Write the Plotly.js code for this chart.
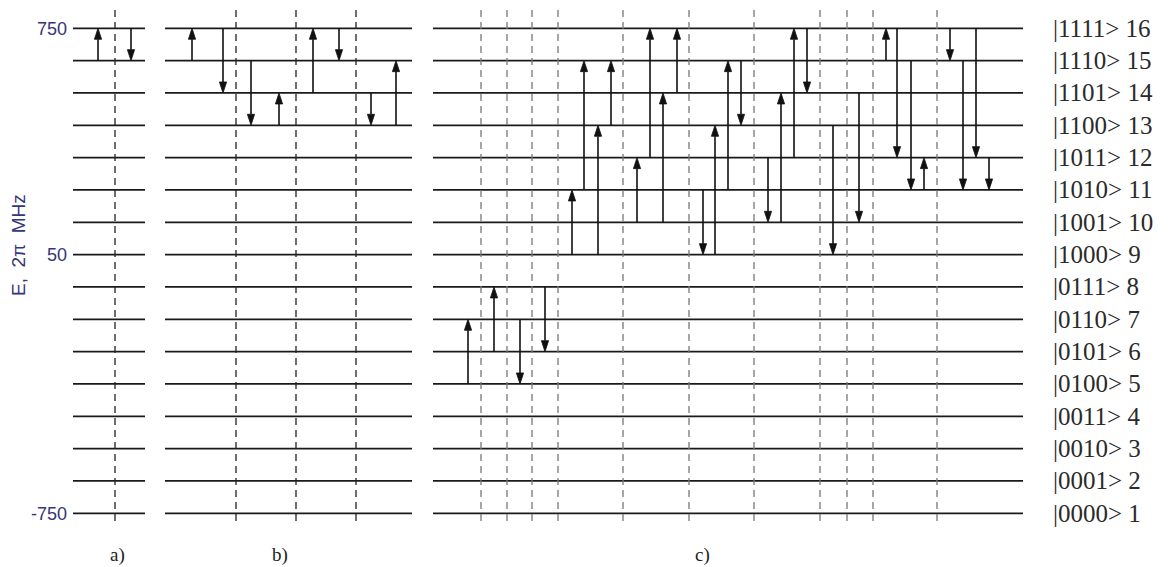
<!DOCTYPE html>
<html>
<head>
<meta charset="utf-8">
<script src="https://cdn.plot.ly/plotly-3.0.1.min.js"></script>
<style>html,body{margin:0;padding:0;background:#fff;}#chart{width:1170px;height:567px;}</style>
</head>
<body>
<div id="chart"></div>
<script>
// ---- data ----
const levelEnergies = [-750,-650,-550,-450,-350,-250,-150,-50,50,150,250,350,450,550,650,750];
const stateLabels = ["|0000> 1","|0001> 2","|0010> 3","|0011> 4","|0100> 5","|0101> 6","|0110> 7","|0111> 8",
                     "|1000> 9","|1001> 10","|1010> 11","|1011> 12","|1100> 13","|1101> 14","|1110> 15","|1111> 16"];
const tickValues = [-750, 50, 750];
const tickLabels = ["-750", "50", "750"];
const panelNames = ["a)", "b)", "c)"];

// transitions (x position along the schematic, from level, to level)
const aX = [98, 131];
const aFrom = [15, 16];
const aTo = [16, 15];

const bX = [192, 223, 251, 279, 313, 339, 371, 396];
const bFrom = [15, 16, 15, 13, 14, 16, 14, 13];
const bTo = [16, 14, 13, 14, 16, 15, 13, 15];

const cX = [468, 494, 520, 545, 572, 584, 598, 611, 637, 650, 663, 677, 703, 715, 728, 741,
            768, 781, 794, 807, 833, 859, 886, 897, 911, 924, 950, 963, 976, 989];
const cFrom = [5, 6, 7, 8, 9, 11, 9, 13, 10, 12, 10, 14, 11, 9, 11, 15,
               12, 10, 12, 16, 13, 14, 15, 16, 15, 11, 16, 15, 16, 12];
const cTo = [7, 8, 5, 6, 11, 15, 13, 15, 12, 16, 14, 16, 9, 13, 15, 13,
             10, 14, 16, 14, 9, 10, 16, 12, 11, 12, 15, 11, 12, 11];

// dashed separators
const aDash = [115];
const bDash = [236, 296, 356];
const cDash = [481, 507, 532, 558, 623, 689, 754, 820, 847, 873, 937];

// ---- layout geometry ----
const W = 1170, H = 567, ML = 68;
const yTop = 837.5, yBot = -916.1;
const yPerPx = (yTop - yBot) / H;
const pyToY = p => yTop - p * yPerPx;
const pxToPaper = p => (p - ML) / (W - ML);

const panels = [
  {x0: 73, x1: 145, xs: aX, from: aFrom, to: aTo, dash: aDash, dashColor: '#222', labelX: 117},
  {x0: 165, x1: 412, xs: bX, from: bFrom, to: bTo, dash: bDash, dashColor: '#222', labelX: 280},
  {x0: 433, x1: 1023, xs: cX, from: cFrom, to: cTo, dash: cDash, dashColor: '#777', labelX: 702}
];

const traces = [];
const headLen = 11 * yPerPx, headHalf = 3.6;
const dashTop = pyToY(10), dashBot = pyToY(525);

panels.forEach(p => {
  // levels
  const lx = [], ly = [];
  levelEnergies.forEach(e => { lx.push(p.x0, p.x1, null); ly.push(e, e, null); });
  traces.push({type: 'scatter', mode: 'lines', x: lx, y: ly, hoverinfo: 'skip',
               line: {color: '#1a1a1a', width: 1.8}, showlegend: false});
  // dashed separators
  const dx = [], dy = [];
  p.dash.forEach(x => { dx.push(x, x, null); dy.push(dashTop, dashBot, null); });
  traces.push({type: 'scatter', mode: 'lines', x: dx, y: dy, hoverinfo: 'skip',
               line: {color: p.dashColor, width: 1.3, dash: '7px,5px'}, showlegend: false});
  // arrows
  const sx = [], sy = [], hx = [], hy = [];
  p.xs.forEach((x, i) => {
    const y0 = levelEnergies[p.from[i] - 1], y1 = levelEnergies[p.to[i] - 1];
    const dir = y1 > y0 ? 1 : -1;
    const base = y1 - dir * headLen;
    sx.push(x, x, null); sy.push(y0, base, null);
    hx.push(x - headHalf, x + headHalf, x, x - headHalf, null);
    hy.push(base, base, y1, base, null);
  });
  traces.push({type: 'scatter', mode: 'lines', x: sx, y: sy, hoverinfo: 'skip',
               line: {color: '#111', width: 1.6}, showlegend: false});
  traces.push({type: 'scatter', mode: 'lines', x: hx, y: hy, fill: 'toself', fillcolor: '#111',
               hoverinfo: 'skip', line: {color: '#111', width: 0.8}, showlegend: false});
});

const annotations = [];
stateLabels.forEach((t, i) => {
  annotations.push({x: 1051, y: levelEnergies[i], xref: 'x', yref: 'y', text: t, showarrow: false,
                    xanchor: 'left', yanchor: 'middle',
                    font: {family: 'Liberation Serif, Times New Roman, serif', size: 25, color: '#2a2a2a'}});
});
panels.forEach((p, i) => {
  annotations.push({x: p.labelX, y: pyToY(555), xref: 'x', yref: 'y', text: panelNames[i], showarrow: false,
                    xanchor: 'center', yanchor: 'middle',
                    font: {family: 'Liberation Serif, Times New Roman, serif', size: 19, color: '#222'}});
});
annotations.push({x: pxToPaper(18), y: pyToY(245), xref: 'paper', yref: 'y', text: 'E,  2\u03c0  MHz',
                  showarrow: false, textangle: -90, xanchor: 'center', yanchor: 'middle',
                  font: {family: 'Liberation Sans, Arial, sans-serif', size: 19, color: '#35357a'}});

const layout = {
  width: W, height: H,
  margin: {l: ML, r: 0, t: 0, b: 0, pad: 0},
  paper_bgcolor: '#fff', plot_bgcolor: '#fff',
  showlegend: false,
  xaxis: {range: [ML, W], visible: false, fixedrange: true},
  yaxis: {range: [yBot, yTop], showgrid: false, zeroline: false, showline: false, ticks: '',
          tickmode: 'array', tickvals: tickValues, ticktext: tickLabels,
          tickfont: {family: 'Liberation Sans, Arial, sans-serif', size: 18, color: '#35357a'},
          fixedrange: true},
  annotations: annotations
};

Plotly.newPlot('chart', traces, layout, {staticPlot: true, displayModeBar: false});
</script>
</body>
</html>
